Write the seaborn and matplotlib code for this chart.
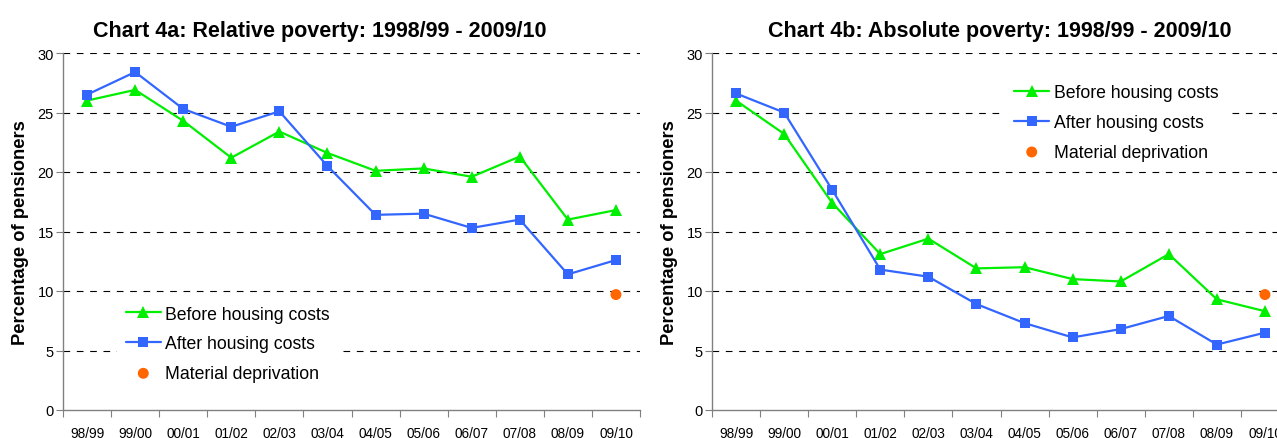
import numpy as np
import pandas as pd
import matplotlib
matplotlib.use("Agg")
import matplotlib.pyplot as plt
import seaborn as sns

sns.set_style("white")
plt.rcParams['font.family'] = ['Liberation Sans', 'DejaVu Sans']
plt.rcParams['text.color'] = 'black'
plt.rcParams['axes.labelcolor'] = 'black'
plt.rcParams['xtick.labelcolor'] = 'black'
plt.rcParams['ytick.labelcolor'] = 'black'

years = ["98/99", "99/00", "00/01", "01/02", "02/03", "03/04",
         "04/05", "05/06", "06/07", "07/08", "08/09", "09/10"]

rel_bhc = [26.0, 26.9, 24.3, 21.2, 23.4, 21.6, 20.1, 20.3, 19.6, 21.3, 16.0, 16.8]
rel_ahc = [26.5, 28.4, 25.3, 23.8, 25.1, 20.5, 16.4, 16.5, 15.3, 16.0, 11.4, 12.6]
abs_bhc = [26.0, 23.2, 17.4, 13.1, 14.4, 11.9, 12.0, 11.0, 10.8, 13.1, 9.3, 8.3]
abs_ahc = [26.6, 25.0, 18.5, 11.8, 11.2, 8.9, 7.3, 6.1, 6.8, 7.9, 5.5, 6.5]
md_year = "09/10"
md_value = 9.7

titles = ["Chart 4a: Relative poverty: 1998/99 - 2009/10",
          "Chart 4b: Absolute poverty: 1998/99 - 2009/10"]
series_names = ["Before housing costs", "After housing costs"]
md_name = "Material deprivation"
ylabel = "Percentage of pensioners"

GREEN = "#00EE00"
BLUE = "#3366FF"
ORANGE = "#FF6600"

W, H = 1277, 439
fig = plt.figure(figsize=(W / 100, H / 100), dpi=100)

ax_w = 577 / W
ax_b = 1 - 411 / H
ax_h = (411 - 54) / H
axes = [fig.add_axes([63 / W, ax_b, ax_w, ax_h]),
        fig.add_axes([712 / W, ax_b, ax_w, ax_h])]

datasets = [(rel_bhc, rel_ahc), (abs_bhc, abs_ahc)]
legend_anchor = [(0.078, 0.342), (0.493, 0.962)]
title_x = [(320 - 63) / 577, (1000 - 712) / 577]

for ax, (bhc, ahc), title, anchor, tx in zip(axes, datasets, titles, legend_anchor, title_x):
    xpos = np.arange(len(years))
    df = pd.DataFrame({
        "x": np.concatenate([xpos, xpos]),
        "value": bhc + ahc,
        "series": [series_names[0]] * len(years) + [series_names[1]] * len(years),
    })
    for yv in range(5, 31, 5):
        ax.axhline(yv, color="black", lw=0.8, ls=(0, (6, 6)), zorder=0)
    sns.lineplot(data=df, x="x", y="value", hue="series", style="series",
                 palette={series_names[0]: GREEN, series_names[1]: BLUE},
                 markers={series_names[0]: "^", series_names[1]: "s"},
                 dashes=False, lw=1.6, markersize=8, markeredgewidth=0,
                 ax=ax, legend=True, zorder=3)
    for ln in ax.lines:
        if ln.get_marker() == "s":
            ln.set_markersize(6.8)
        elif ln.get_marker() == "^":
            ln.set_markersize(8.5)
    md_df = pd.DataFrame({"x": [years.index(md_year)], "value": [md_value]})
    sns.scatterplot(data=md_df, x="x", y="value", color=ORANGE, s=62,
                    edgecolor="none", ax=ax, label=md_name, zorder=4)

    ax.set_xlim(-0.5, len(years) - 0.5)
    ax.set_ylim(0, 30)
    ax.set_yticks(range(0, 31, 5))
    ax.set_xticks(np.arange(-0.5, len(years), 1.0))
    ax.set_xticklabels([])
    ax.set_xticks(xpos, minor=True)
    ax.set_xticklabels(years, minor=True)
    ax.tick_params(axis="x", which="major", length=5, width=0.8, color="#808080", direction="out", bottom=True)
    ax.tick_params(axis="x", which="minor", length=0, labelsize=9.8, pad=11.2)
    ax.tick_params(axis="y", length=5, width=0.8, color="#808080", direction="out", left=True, labelsize=10.5, pad=1.5)
    for side in ["top", "right"]:
        ax.spines[side].set_visible(False)
    for side in ["left", "bottom"]:
        ax.spines[side].set_color("#808080")
        ax.spines[side].set_linewidth(1.0)
    ax.set_xlabel("")
    ax.set_ylabel(ylabel, fontsize=13.2, fontweight="bold")
    ax.yaxis.set_label_coords(-34 / 577, 0.5)
    ax.set_title(title, fontsize=15.5, fontweight="bold", pad=12, x=tx, ha="center")

    handles, labels = ax.get_legend_handles_labels()
    order = [labels.index(series_names[0]), labels.index(series_names[1]), labels.index(md_name)]
    leg = ax.legend([handles[i] for i in order], [labels[i] for i in order],
                    loc="upper left", bbox_to_anchor=anchor, fontsize=12.7,
                    frameon=True, facecolor="white", edgecolor="none", framealpha=1,
                    fancybox=False, handlelength=2.0, handletextpad=0.25,
                    labelspacing=0.72, borderpad=0.5)
    leg.set_zorder(10)

fig.savefig("out.png", dpi=100)
